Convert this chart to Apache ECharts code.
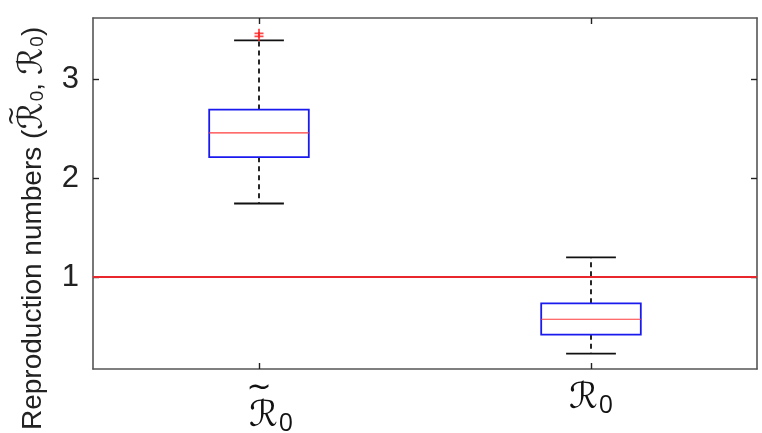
<!DOCTYPE html>
<html>
<head>
<meta charset="utf-8">
<script src="https://cdn.jsdelivr.net/npm/echarts@6/dist/echarts.min.js"></script>
<style>html,body{margin:0;padding:0;background:#fff}#c{width:762px;height:433px}</style>
</head>
<body>
<div id="c"></div>
<script>
const categories = ['Rt', 'R'];
const whiskerLow = [1.744, 0.225];
const quartile1 = [2.212, 0.417];
const medians = [2.458, 0.573];
const quartile3 = [2.694, 0.734];
const whiskerHigh = [3.394, 1.199];
const outlierCategory = [0, 0];
const outlierValues = [3.465, 3.434];
const referenceLevel = 1;
const yTicks = [1, 2, 3];
const yTickLabels = ['1', '2', '3'];
const yTitleLead = 'Reproduction numbers (';

const chart = echarts.init(document.getElementById('c'), null, {renderer: 'canvas'});

const boxData = categories.map((c, i) => [i, whiskerLow[i], quartile1[i], medians[i], quartile3[i], whiskerHigh[i]]);
const outlierData = outlierValues.map((v, i) => [outlierCategory[i], v]);

function renderBox(params, api) {
  const x = api.value(0);
  const band = api.size([1, 0])[0];
  const hw = band * 0.15;
  const cw = hw / 2;
  const pLow = api.coord([x, api.value(1)]);
  const pQ1 = api.coord([x, api.value(2)]);
  const pMed = api.coord([x, api.value(3)]);
  const pQ3 = api.coord([x, api.value(4)]);
  const pHigh = api.coord([x, api.value(5)]);
  const cx = pMed[0];
  const dashed = {stroke: '#111', lineWidth: 1.8, lineDash: [5, 4]};
  const solid = {stroke: '#111', lineWidth: 1.8};
  return {
    type: 'group',
    children: [
      {type: 'line', shape: {x1: cx, y1: pQ3[1], x2: cx, y2: pHigh[1]}, style: dashed},
      {type: 'line', shape: {x1: cx, y1: pQ1[1], x2: cx, y2: pLow[1]}, style: dashed},
      {type: 'line', shape: {x1: cx - cw, y1: pHigh[1], x2: cx + cw, y2: pHigh[1]}, style: solid},
      {type: 'line', shape: {x1: cx - cw, y1: pLow[1], x2: cx + cw, y2: pLow[1]}, style: solid},
      {type: 'rect', shape: {x: cx - hw, y: pQ3[1], width: 2 * hw, height: pQ1[1] - pQ3[1]}, style: {fill: null, stroke: '#1a1aee', lineWidth: 1.8}},
      {type: 'line', shape: {x1: cx - hw, y1: pMed[1], x2: cx + hw, y2: pMed[1]}, style: {stroke: '#ff3b3b', lineWidth: 1.2}}
    ]
  };
}

// measure the y-title lead so the tilde can sit over the first script R
const mctx = document.createElement('canvas').getContext('2d');
mctx.font = '28px "Liberation Sans"';
const leadW = mctx.measureText(yTitleLead).width;
mctx.font = '34px "DejaVu Sans"';
const rW = mctx.measureText('ℛ').width;
const titleX = 33, titleBottom = 430;

const axisLineStyle = {color: '#555', width: 1.6};
const tickStyle = {color: '#222', width: 1.4};
const labelRich = {
  ta: {fontFamily: 'DejaVu Sans', fontSize: 30, color: '#111', lineHeight: 18, padding: [0, 0, 0, 0]},
  r: {fontFamily: 'DejaVu Sans', fontSize: 36, color: '#111', lineHeight: 36},
  rp: {fontFamily: 'DejaVu Sans', fontSize: 36, color: '#111', lineHeight: 36, padding: [0, 0, 0, 24]},
  s: {fontFamily: 'Open Sans', fontSize: 25, color: '#111', padding: [14, 0, 0, 1]}
};

const option = {
  animation: false,
  backgroundColor: '#fff',
  grid: {left: 93, right: 5, top: 18, bottom: 64, show: false, outerBoundsMode: 'none', containLabel: false},
  xAxis: [
    {
      type: 'category', data: categories, boundaryGap: true, position: 'bottom',
      axisLine: {show: true, lineStyle: axisLineStyle},
      axisTick: {show: true, inside: true, alignWithLabel: true, length: 6, lineStyle: tickStyle},
      axisLabel: {
        margin: 10,
        formatter: function (v) { return v === 'Rt' ? '{ta|~}\n{rp|ℛ}{s|0}' : '{r|ℛ}{s|0}'; },
        rich: labelRich
      },
      splitLine: {show: false}
    },
    {
      type: 'category', data: categories, boundaryGap: true, position: 'top',
      axisLine: {show: true, lineStyle: axisLineStyle},
      axisTick: {show: true, inside: true, alignWithLabel: true, length: 6, lineStyle: tickStyle},
      axisLabel: {show: false},
      splitLine: {show: false}
    }
  ],
  yAxis: [
    {
      type: 'value', min: 0.07, max: 3.62, position: 'left',
      axisLine: {show: true, lineStyle: axisLineStyle},
      axisTick: {show: true, inside: true, length: 6, customValues: yTicks, lineStyle: tickStyle},
      axisLabel: {
        customValues: yTicks, margin: 14,
        formatter: function (v) { const i = yTicks.indexOf(Math.round(v)); return i >= 0 ? yTickLabels[i] : ''; },
        fontFamily: 'Liberation Sans', fontSize: 31, color: '#222'
      },
      splitLine: {show: false}
    },
    {
      type: 'value', min: 0.07, max: 3.62, position: 'right',
      axisLine: {show: true, lineStyle: axisLineStyle},
      axisTick: {show: true, inside: true, length: 6, customValues: yTicks, lineStyle: tickStyle},
      axisLabel: {show: false},
      splitLine: {show: false}
    }
  ],
  graphic: [
    {
      type: 'text', x: titleX, y: titleBottom, rotation: Math.PI / 2,
      style: {
        text: '{a|' + yTitleLead + '}{r|ℛ}{s|0}{a|, }{r|ℛ}{s|0}{a|)}',
        align: 'left', verticalAlign: 'middle',
        rich: {
          a: {fontFamily: 'Liberation Sans', fontSize: 28, fill: '#222'},
          r: {fontFamily: 'DejaVu Sans', fontSize: 34, fill: '#222'},
          s: {fontFamily: 'Open Sans', fontSize: 19, fill: '#222', padding: [10, 0, 0, 1]}
        }
      },
      z: 10
    },
    {
      type: 'text', x: titleX - 20, y: titleBottom - leadW - rW / 2, rotation: Math.PI / 2,
      style: {text: '~', align: 'center', verticalAlign: 'middle', fontFamily: 'DejaVu Sans', fontSize: 24, fill: '#222'},
      z: 10
    }
  ],
  series: [
    {
      type: 'custom', xAxisIndex: 0, yAxisIndex: 0,
      renderItem: renderBox,
      encode: {x: 0, y: [1, 2, 3, 4, 5]},
      data: boxData, z: 3
    },
    {
      type: 'scatter', xAxisIndex: 0, yAxisIndex: 0,
      symbol: 'path://M4,0 L6,0 L6,4 L10,4 L10,6 L6,6 L6,10 L4,10 L4,6 L0,6 L0,4 L4,4 Z',
      symbolSize: 9,
      itemStyle: {color: '#ff1a1a'},
      data: outlierData, z: 4,
      markLine: {
        silent: true, symbol: ['none', 'none'],
        label: {show: false},
        lineStyle: {color: '#e8262b', width: 2, type: 'solid'},
        data: [{yAxis: referenceLevel}]
      }
    }
  ]
};
chart.setOption(option);
</script>
</body>
</html>
